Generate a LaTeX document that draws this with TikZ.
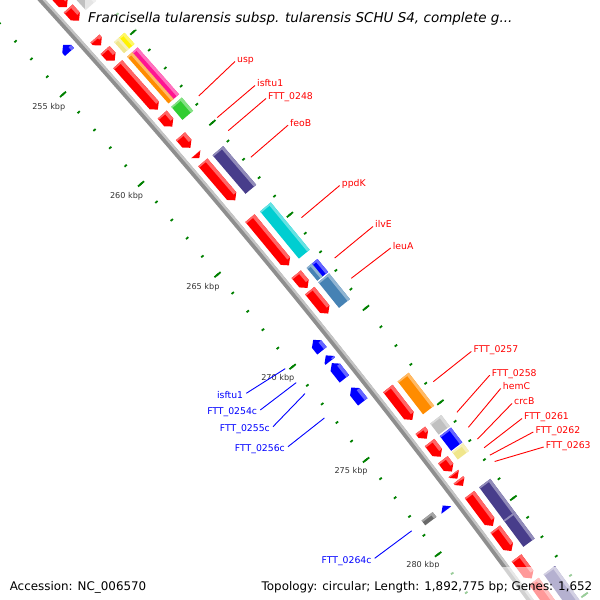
\documentclass[tikz,border=0pt]{standalone}
\usepackage{fontspec}
\setmainfont{DejaVu Sans}

\definecolor{bbgray}{HTML}{8E8E8E}
\definecolor{bblight}{HTML}{C4C4C4}
\definecolor{tickgreen}{HTML}{008000}
\definecolor{kbgray}{HTML}{333333}
\definecolor{cogorange}{HTML}{FF8C00}
\definecolor{cogpink}{HTML}{FF1493}
\definecolor{cogkhaki}{HTML}{F0E68C}
\definecolor{coggreen}{HTML}{32CD32}
\definecolor{cogpurple}{HTML}{483D8B}
\definecolor{cogcyan}{HTML}{00CED1}
\definecolor{cogsteel}{HTML}{4682B4}
\definecolor{coggray}{HTML}{C0C0C0}
\definecolor{cogdim}{HTML}{696969}

\tikzset{
  backbone/.style={line width=6pt, color=bbgray},
  backbonehi/.style={line width=2.4pt, color=bblight},
  rulertick/.style={tickgreen, line width=1.8pt},
  kblabel/.style={text=kbgray, inner sep=0pt, font=\fontsize{8.1}{9}\selectfont},
  fwdlabel/.style={anchor=base west, inner sep=0pt, text=red, font=\fontsize{9.3}{11}\selectfont},
  revlabel/.style={anchor=base east, inner sep=0pt, text=blue, font=\fontsize{9.3}{11}\selectfont},
  fwdline/.style={red, line width=0.9pt},
  revline/.style={blue, line width=0.9pt},
  veil/.style={fill=white, fill opacity=0.6},
}

% forward strand gene, arrow at the end
\newcommand{\fwdgene}[3]{%
  \pgfmathsetmacro\ga{kb(#1)}\pgfmathsetmacro\gb{kb(#2)}%
  \pgfmathsetmacro\gh{kb(max(#1,#2-0.23))}%
  \pgfmathsetmacro\gc{kb(max(#1,min(#1+0.07,#2-0.23)))}%
  \fill[#3] (\ga:7208) -- (\gh:7208) -- (\gb:7214) -- (\gh:7220) -- (\ga:7220) -- cycle;
  \fill[#3!60!white] (\ga:7216.5) -- (\gh:7216.5) -- (\gh:7220) -- (\ga:7220) -- cycle;
  \fill[#3!60!white] (\ga:7208) -- (\gc:7208) -- (\gc:7220) -- (\ga:7220) -- cycle;}
% reverse strand gene, arrow at the start
\newcommand{\revgene}[3]{%
  \pgfmathsetmacro\ga{kb(#1)}\pgfmathsetmacro\gb{kb(#2)}%
  \pgfmathsetmacro\gh{kb(min(#2,#1+0.23))}%
  \fill[#3] (\ga:7186) -- (\gh:7180) -- (\gb:7180) -- (\gb:7192) -- (\gh:7192) -- cycle;
  \fill[#3!60!white] (\gh:7188.5) -- (\gb:7188.5) -- (\gb:7192) -- (\gh:7192) -- cycle;}
% COG category block
\newcommand{\cogbox}[5]{%
  \pgfmathsetmacro\ga{kb(#1)}\pgfmathsetmacro\gb{kb(#2)}%
  \pgfmathsetmacro\gc{kb(min(#1+0.07,#2))}\pgfmathsetmacro\rh{#4-3}%
  \fill[#5] (\ga:#3) -- (\gb:#3) -- (\gb:#4) -- (\ga:#4) -- cycle;
  \fill[#5!60!white] (\ga:\rh) -- (\gb:\rh) -- (\gb:#4) -- (\ga:#4) -- cycle;
  \fill[#5!60!white] (\ga:#3) -- (\gc:#3) -- (\gc:#4) -- (\ga:#4) -- cycle;}

\begin{document}
\begin{tikzpicture}[x=1pt, y=1pt, declare function={kb(\k)=41.56-(\k-255)*0.190198;}]
  \useasboundingbox (0,0) rectangle (600,600);
  \clip (0,0) rectangle (600,600);
  \begin{scope}[shift={(-5289,-4239.5)}]
    % backbone
    \draw[backbone] ({kb(249)}:7200) arc[start angle={kb(249)}, end angle={kb(287)}, radius=7200];
    \draw[backbonehi] ({kb(249)}:7202) arc[start angle={kb(249)}, end angle={kb(287)}, radius=7202];
    % rulers
    \foreach \k in {249,...,287} {
      \pgfmathsetmacro\ta{kb(\k)}
      \draw[rulertick] (\ta:7151.5) -- (\ta:7154.5);
      \draw[rulertick] (\ta:7245.5) -- (\ta:7248.5);
    }
    \foreach \k in {250,255,...,285} {
      \pgfmathsetmacro\ta{kb(\k)}
      \draw[rulertick] (\ta:7149) -- (\ta:7157);
      \draw[rulertick] (\ta:7243) -- (\ta:7251);
    }
    \foreach \k in {255,260,...,280}
      \node[kblabel] (kb\k) at ({kb(\k)}:7134) {\k\ kbp};
    % forward genes
    \fwdgene{250.5}{252.38}{red}
    \fwdgene{252.46}{253.14}{red}
    \fwdgene{254.14}{254.52}{red}
    \fwdgene{254.78}{255.38}{red}
    \fwdgene{255.57}{258.1}{red}
    \fwdgene{258.38}{259.03}{red}
    \fwdgene{259.56}{260.2}{red}
    \fwdgene{260.55}{260.77}{red}
    \fwdgene{261.0}{263.08}{red}
    \fwdgene{264.05}{266.6}{red}
    \fwdgene{267.08}{267.82}{red}
    \fwdgene{267.97}{269.2}{red}
    \fwdgene{273.2}{274.86}{red}
    \fwdgene{275.41}{275.85}{red}
    \fwdgene{276.05}{276.8}{red}
    \fwdgene{276.96}{277.58}{red}
    \fwdgene{277.68}{277.95}{red}
    \fwdgene{278.02}{278.33}{red}
    \fwdgene{278.79}{280.42}{red}
    \fwdgene{280.59}{281.72}{red}
    \fwdgene{282.08}{283.15}{red}
    \fwdgene{283.3}{286}{red}
    % reverse genes
    \revgene{253.45}{253.85}{blue}
    \revgene{269.66}{270.25}{blue}
    \revgene{270.5}{270.8}{blue}
    \revgene{270.91}{271.75}{blue}
    \revgene{272.22}{272.99}{blue}
    \revgene{278.48}{278.72}{blue}
    % COG blocks
    \cogbox{250.5}{253.0}{7226}{7240}{coggray}
    \cogbox{254.78}{255.4}{7226}{7233}{cogkhaki}
    \cogbox{254.78}{255.4}{7233}{7240}{yellow}
    \cogbox{255.6}{258.2}{7226}{7233}{cogorange}
    \cogbox{255.6}{258.2}{7233}{7240}{cogpink}
    \cogbox{258.38}{259.1}{7226}{7240}{coggreen}
    \cogbox{261.03}{263.15}{7226}{7240}{cogpurple}
    \cogbox{264.1}{266.65}{7226}{7240}{cogcyan}
    \cogbox{267.15}{267.85}{7226}{7233}{cogsteel}
    \cogbox{267.15}{267.85}{7233}{7240}{blue}
    \cogbox{267.92}{269.3}{7226}{7240}{cogsteel}
    \cogbox{273.22}{274.95}{7226}{7240}{cogorange}
    \cogbox{275.44}{276.02}{7226}{7240}{coggray}
    \cogbox{276.1}{276.87}{7226}{7240}{blue}
    \cogbox{276.93}{277.33}{7226}{7240}{cogkhaki}
    \cogbox{278.79}{280.5}{7226}{7240}{cogpurple}
    \cogbox{280.5}{281.88}{7226}{7240}{cogpurple}
    \cogbox{283.3}{286}{7226}{7240}{cogpurple}
    \cogbox{278.45}{278.7}{7160}{7174}{cogdim}
    % label anchors on the map
    \coordinate (c-usp) at ({kb(258.79)}:7254);
    \coordinate (c-isftu1) at ({kb(259.97)}:7254);
    \coordinate (c-ftt0248) at ({kb(260.68)}:7254);
    \coordinate (c-feoB) at ({kb(262.13)}:7254);
    \coordinate (c-ppdK) at ({kb(265.4)}:7254);
    \coordinate (c-ilvE) at ({kb(267.57)}:7254);
    \coordinate (c-leuA) at ({kb(268.66)}:7254);
    \coordinate (c-ftt0257) at ({kb(274.14)}:7254);
    \coordinate (c-ftt0258) at ({kb(275.75)}:7254);
    \coordinate (c-hemC) at ({kb(276.53)}:7254);
    \coordinate (c-crcB) at ({kb(277.15)}:7254);
    \coordinate (c-ftt0261) at ({kb(277.6)}:7254);
    \coordinate (c-ftt0262) at ({kb(277.99)}:7254);
    \coordinate (c-ftt0263) at ({kb(278.32)}:7254);
    \coordinate (c-isftu1c) at ({kb(269.87)}:7146);
    \coordinate (c-ftt0254c) at ({kb(270.62)}:7146);
    \coordinate (c-ftt0255c) at ({kb(271.21)}:7146);
    \coordinate (c-ftt0256c) at ({kb(272.53)}:7146);
    \coordinate (c-ftt0264c) at ({kb(278.54)}:7146);
  \end{scope}

  % labels, forward strand
  \node[fwdlabel] (usp) at (237,537) {usp};
  \node[fwdlabel] (isftu1) at (257,513) {isftu1};
  \node[fwdlabel] (ftt0248) at (268,500) {FTT\_0248};
  \node[fwdlabel] (feoB) at (290,473.3) {feoB};
  \node[fwdlabel] (ppdK) at (341.7,413) {ppdK};
  \node[fwdlabel] (ilvE) at (375,372) {ilvE};
  \node[fwdlabel] (leuA) at (392.7,350.5) {leuA};
  \node[fwdlabel] (ftt0257) at (473.3,247) {FTT\_0257};
  \node[fwdlabel] (ftt0258) at (491.7,223.3) {FTT\_0258};
  \node[fwdlabel] (hemC) at (502.7,210) {hemC};
  \node[fwdlabel] (crcB) at (514,195) {crcB};
  \node[fwdlabel] (ftt0261) at (524,180) {FTT\_0261};
  \node[fwdlabel] (ftt0262) at (535.3,166.5) {FTT\_0262};
  \node[fwdlabel] (ftt0263) at (545.7,151.5) {FTT\_0263};
  \foreach \n in {usp,isftu1,ftt0248,feoB,ppdK,ilvE,leuA,ftt0257,ftt0258,hemC,crcB,ftt0261,ftt0262,ftt0263}
    \draw[fwdline] (c-\n) -- ([shift={(-2,1.5)}]\n.base west);

  % labels, reverse strand
  \node[revlabel] (isftu1c) at (243.3,201.7) {isftu1};
  \node[revlabel] (ftt0254c) at (257.3,185) {FTT\_0254c};
  \node[revlabel] (ftt0255c) at (270,168.3) {FTT\_0255c};
  \node[revlabel] (ftt0256c) at (285,148.3) {FTT\_0256c};
  \node[revlabel] (ftt0264c) at (371.7,36.7) {FTT\_0264c};
  \foreach \n in {isftu1c,ftt0254c,ftt0255c,ftt0256c,ftt0264c}
    \draw[revline] (c-\n) -- ([shift={(3,5)}]\n.base east);

  % title and legend
  \fill[veil] (85,570) rectangle (516,600);
  \fill[veil] (0,0) rectangle (150,33);
  \fill[veil] (257,0) rectangle (600,33);
  \node[anchor=base west, inner sep=0pt, font=\itshape\fontsize{13.5}{16}\selectfont] (title) at (88,577.3)
    {Francisella tularensis subsp. tularensis SCHU S4, complete g...};
  \node[anchor=base west, inner sep=0pt, font=\fontsize{11.9}{14}\selectfont] (accession) at (9.6,9.4)
    {Accession: NC\_006570};
  \node[anchor=base east, inner sep=0pt, font=\fontsize{11.9}{14}\selectfont] (topology) at (592.5,9.4)
    {Topology: circular; Length: 1,892,775 bp; Genes: 1,652};
\end{tikzpicture}
\end{document}
